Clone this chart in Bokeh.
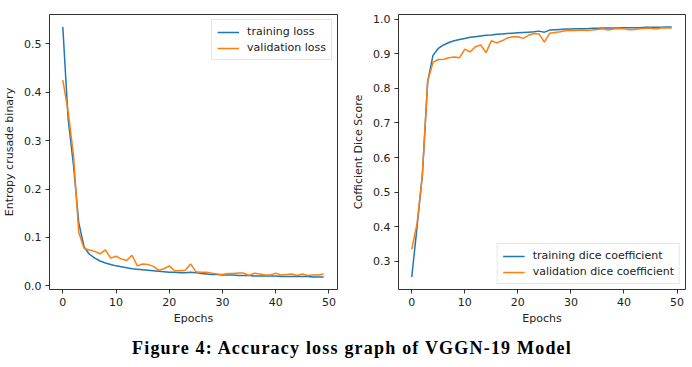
from bokeh.plotting import figure
from bokeh.layouts import column, row
from bokeh.models import Div, Range1d, Legend, LegendItem, FixedTicker
from bokeh.embed import file_html
from bokeh.resources import INLINE

epochs = list(range(50))

train_loss = [0.535, 0.345, 0.25, 0.13, 0.08, 0.065, 0.057, 0.051, 0.047, 0.044,
              0.041, 0.039, 0.037, 0.035, 0.034, 0.033, 0.032, 0.031, 0.030, 0.029,
              0.028, 0.028, 0.027, 0.027, 0.028, 0.027, 0.025, 0.024, 0.023, 0.023,
              0.022, 0.022, 0.022, 0.021, 0.021, 0.021, 0.020, 0.020, 0.020, 0.020,
              0.020, 0.019, 0.019, 0.019, 0.019, 0.019, 0.019, 0.018, 0.018, 0.018]
val_loss = [0.425, 0.36, 0.27, 0.11, 0.077, 0.074, 0.071, 0.066, 0.074, 0.057,
            0.061, 0.055, 0.052, 0.063, 0.041, 0.045, 0.044, 0.040, 0.032, 0.035,
            0.041, 0.031, 0.031, 0.032, 0.045, 0.029, 0.028, 0.028, 0.026, 0.024,
            0.023, 0.025, 0.025, 0.026, 0.026, 0.021, 0.026, 0.024, 0.022, 0.022,
            0.026, 0.022, 0.023, 0.024, 0.021, 0.024, 0.021, 0.022, 0.022, 0.024]

train_dice = [0.255, 0.40, 0.55, 0.82, 0.895, 0.915, 0.925, 0.932, 0.937, 0.941,
              0.944, 0.947, 0.949, 0.951, 0.953, 0.954, 0.956, 0.957, 0.958, 0.959,
              0.960, 0.961, 0.962, 0.963, 0.965, 0.962, 0.968, 0.969, 0.970, 0.971,
              0.971, 0.972, 0.972, 0.972, 0.973, 0.973, 0.974, 0.974, 0.974, 0.974,
              0.975, 0.975, 0.975, 0.975, 0.976, 0.976, 0.976, 0.976, 0.977, 0.977]
val_dice = [0.335, 0.41, 0.55, 0.82, 0.875, 0.883, 0.884, 0.888, 0.890, 0.888,
            0.913, 0.905, 0.920, 0.925, 0.903, 0.937, 0.931, 0.937, 0.945, 0.949,
            0.949, 0.944, 0.953, 0.958, 0.957, 0.933, 0.959, 0.961, 0.963, 0.966,
            0.967, 0.967, 0.968, 0.967, 0.968, 0.970, 0.972, 0.968, 0.971, 0.972,
            0.972, 0.969, 0.970, 0.972, 0.973, 0.973, 0.971, 0.974, 0.974, 0.974]

x_ticks = [0, 10, 20, 30, 40, 50]
loss_ticks = [0.0, 0.1, 0.2, 0.3, 0.4, 0.5]
dice_ticks = [0.3, 0.4, 0.5, 0.6, 0.7, 0.8, 0.9, 1.0]

BLUE = "#1f77b4"
ORANGE = "#ff7f0e"
FONT = "DejaVu Sans"
FS = "11px"


def make_fig(fw, left, right, yr, yticks, ylabel):
    p = figure(frame_width=fw, frame_height=275, output_backend="svg", toolbar_location=None,
               x_range=Range1d(-2.5, 51.6), y_range=Range1d(*yr),
               min_border_left=left, min_border_right=right,
               min_border_top=14, min_border_bottom=40)
    p.grid.visible = False
    p.outline_line_color = "#333333"
    p.outline_line_width = 1
    p.background_fill_color = "white"
    p.border_fill_color = "white"
    for ax in (p.xaxis[0], p.yaxis[0]):
        ax.axis_line_color = None
        ax.major_tick_out = 4
        ax.major_tick_in = 0
        ax.minor_tick_line_color = None
        ax.major_tick_line_color = "#333333"
        ax.major_label_standoff = 4
        ax.major_label_text_font = FONT
        ax.major_label_text_font_size = FS
        ax.major_label_text_color = "#222222"
        ax.axis_label_text_font = FONT
        ax.axis_label_text_font_size = FS
        ax.axis_label_text_font_style = "normal"
        ax.axis_label_text_color = "#222222"
    p.xaxis[0].ticker = FixedTicker(ticks=x_ticks)
    p.yaxis[0].ticker = FixedTicker(ticks=yticks)
    p.xaxis[0].axis_label = "Epochs"
    p.xaxis[0].axis_label_standoff = 3
    p.yaxis[0].axis_label = ylabel
    p.yaxis[0].axis_label_standoff = 5
    p.yaxis[0].major_label_overrides = {t: f"{t:.1f}" for t in yticks}
    return p


p1 = make_fig(288, 44, 12, (-0.0079, 0.561), loss_ticks, "Entropy crusade binary")
r1 = p1.line(epochs, train_loss, line_color=BLUE, line_width=1.5)
r2 = p1.line(epochs, val_loss, line_color=ORANGE, line_width=1.5)
leg1 = Legend(items=[LegendItem(label="training loss", renderers=[r1]),
                     LegendItem(label="validation loss", renderers=[r2])],
              location="top_right")

p2 = make_fig(287, 44, 1, (0.219, 1.013), dice_ticks, "Cofficient Dice Score")
r3 = p2.line(epochs, train_dice, line_color=BLUE, line_width=1.5)
r4 = p2.line(epochs, val_dice, line_color=ORANGE, line_width=1.5)
leg2 = Legend(items=[LegendItem(label="training dice coefficient", renderers=[r3]),
                     LegendItem(label="validation dice coefficient", renderers=[r4])],
              location="bottom_right")

for p, leg in ((p1, leg1), (p2, leg2)):
    leg.label_text_font = FONT
    leg.label_text_font_size = FS
    leg.label_text_color = "#222222"
    leg.border_line_color = "#cccccc"
    leg.border_line_width = 1
    leg.background_fill_alpha = 0.8
    leg.glyph_width = 22
    leg.glyph_height = 12
    leg.label_height = 12
    leg.spacing = 3
    leg.padding = 5
    leg.margin = 5
    leg.label_standoff = 8
    p.add_layout(leg)

caption = Div(text="Figure 4: Accuracy loss graph of VGGN-19 Model",
              width=676, height=26,
              styles={"font-family": "Liberation Serif", "font-weight": "bold",
                      "font-size": "18px", "letter-spacing": "1.2px",
                      "text-align": "center", "width": "676px",
                      "text-indent": "18px",
                      "padding-top": "2px", "color": "#000000"})

layout = column(row(p1, p2), caption, spacing=0)
open("out.html", "w").write(file_html(layout, INLINE))
